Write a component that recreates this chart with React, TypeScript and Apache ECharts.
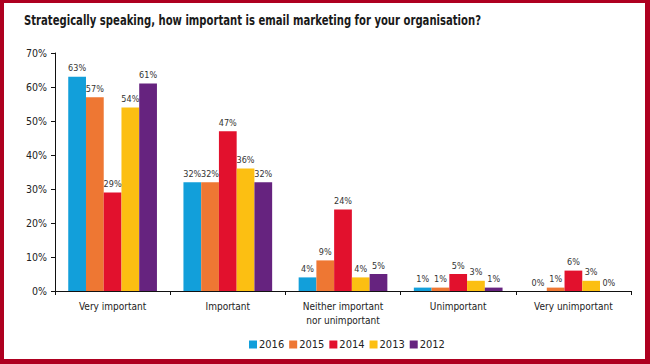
import React, { useEffect, useRef } from "react";
import * as echarts from "echarts";

const categories = [
  "Very important",
  "Important",
  "Neither important\nnor unimportant",
  "Unimportant",
  "Very unimportant",
];
const years = ["2016", "2015", "2014", "2013", "2012"];
const values2016 = [63, 32, 4, 1, 0];
const values2015 = [57, 32, 9, 1, 1];
const values2014 = [29, 47, 24, 5, 6];
const values2013 = [54, 36, 4, 3, 3];
const values2012 = [61, 32, 5, 1, 0];
const seriesValues = [values2016, values2015, values2014, values2013, values2012];
const colors = ["#129FDA", "#EE7733", "#E2112D", "#FCBF12", "#66237F"];
const yTicks = [0, 10, 20, 30, 40, 50, 60, 70];
const titleText = "Strategically speaking, how important is email marketing for your organisation?";

const FONT = "'DejaVu Sans Condensed', 'Roboto', sans-serif";

export default function App() {
  const ref = useRef<HTMLDivElement>(null);
  useEffect(() => {
    document.body.style.margin = "0";
    const chart = echarts.init(ref.current!, null, { renderer: "svg" });
    const border = "#AE0020";
    chart.setOption({
      animation: false,
      backgroundColor: "#ffffff",
      textStyle: { fontFamily: FONT },
      legend: {
        data: years,
        bottom: 9,
        left: 244,
        itemWidth: 8,
        itemHeight: 8,
        itemGap: 5,
        icon: "rect",
        textStyle: { fontSize: 11, color: "#222", padding: [0, 0, 0, -3], fontFamily: FONT },
      },
      grid: { left: 55, right: 19, top: 53, bottom: 73 },
      xAxis: {
        type: "category",
        data: categories,
        axisLine: { lineStyle: { color: "#111", width: 1 } },
        axisTick: { show: true, length: 4, lineStyle: { color: "#111" } },
        axisLabel: { fontSize: 10, color: "#222", margin: 8, lineHeight: 14, fontFamily: FONT },
      },
      yAxis: {
        type: "value",
        min: yTicks[0],
        max: yTicks[yTicks.length - 1],
        interval: 10,
        splitLine: { show: false },
        axisLine: { show: true, lineStyle: { color: "#111", width: 1 } },
        axisTick: { show: true, length: 4, lineStyle: { color: "#111" } },
        axisLabel: { formatter: "{value}%", fontSize: 10.5, color: "#222", margin: 8, fontFamily: FONT },
      },
      series: years.map((y, i) => ({
        name: y,
        type: "bar",
        data: seriesValues[i],
        barGap: "0%",
        barCategoryGap: "23%",
        itemStyle: { color: colors[i] },
        label: {
          show: true,
          position: "top",
          formatter: "{c}%",
          fontSize: 9,
          color: "#333",
          distance: 4,
          fontFamily: FONT,
        },
      })),
      graphic: [
        {
          type: "text",
          x: 24,
          y: 20,
          scaleX: 0.83,
          style: {
            text: titleText,
            fontSize: 13.5,
            fontWeight: "bold",
            fill: "#1a1a1a",
            fontFamily: FONT,
            verticalAlign: "middle",
          },
        },
        { type: "rect", shape: { x: 0, y: 0, width: 650, height: 3 }, style: { fill: border } },
        { type: "rect", shape: { x: 0, y: 0, width: 4, height: 364 }, style: { fill: border } },
        { type: "rect", shape: { x: 645, y: 0, width: 5, height: 364 }, style: { fill: border } },
        { type: "rect", shape: { x: 0, y: 359, width: 650, height: 5 }, style: { fill: border } },
      ],
    });
    return () => chart.dispose();
  }, []);
  return <div ref={ref} style={{ width: 650, height: 364 }} />;
}
